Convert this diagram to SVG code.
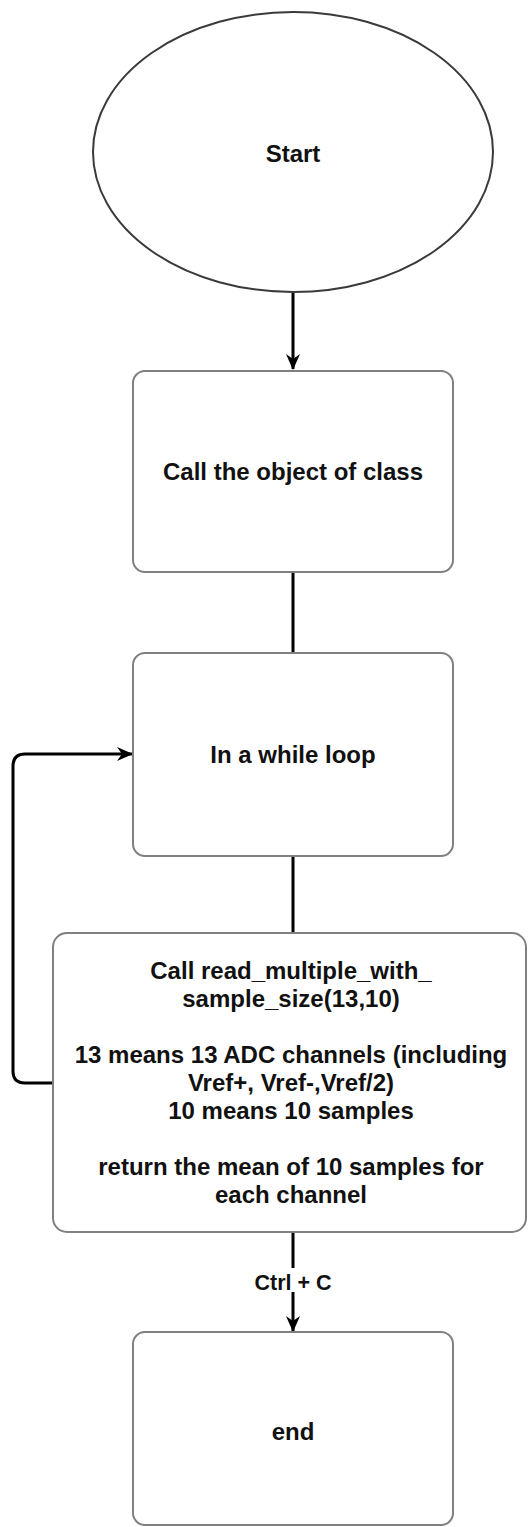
<svg xmlns="http://www.w3.org/2000/svg" width="528" height="1527" viewBox="0 0 528 1527">
  <style>
    .shape { fill: #ffffff; stroke: #808080; stroke-width: 2; }
    .oval { fill: #ffffff; stroke: #3a3a3a; stroke-width: 2; }
    .edge { fill: none; stroke: #000000; stroke-width: 3; }
    .label { font-family: "Liberation Sans", Arial, sans-serif; font-weight: bold; font-size: 24px; fill: #111111; text-anchor: middle; }
    .edge-label { font-family: "Liberation Sans", Arial, sans-serif; font-weight: bold; font-size: 21.5px; fill: #111111; text-anchor: middle; }
  </style>
  <defs>
    <marker id="arrow" viewBox="0 0 16 14" refX="15" refY="7" markerWidth="16" markerHeight="14" markerUnits="userSpaceOnUse" orient="auto">
      <path d="M0,0 L16,7 L0,14 L5,7 Z" fill="#000000"/>
    </marker>
  </defs>

  <rect width="528" height="1527" fill="#ffffff"/>

  <!-- connectors -->
  <g id="connectors">
    <path class="edge" d="M293,292 L293,369" marker-end="url(#arrow)"/>
    <path class="edge" d="M293,572 L293,653"/>
    <path class="edge" d="M293,856 L293,933"/>
    <path class="edge" d="M53,1083 L25,1083 Q13,1083 13,1071 L13,766 Q13,754 25,754 L132,754" marker-end="url(#arrow)"/>
    <path class="edge" d="M293,1232 L293,1331" marker-end="url(#arrow)"/>
    <rect x="254" y="1268" width="79" height="24" fill="#ffffff"/>
    <text class="edge-label" x="293" y="1290">Ctrl + C</text>
  </g>

  <!-- start -->
  <g id="node-start">
    <ellipse class="oval" cx="293" cy="152" rx="200" ry="140"/>
    <text class="label" x="293" y="162">Start</text>
  </g>

  <!-- create object -->
  <g id="node-call-object">
    <rect class="shape" x="133" y="371" width="320" height="201" rx="12" ry="12"/>
    <text class="label" x="293" y="480">Call the object of class</text>
  </g>

  <!-- loop -->
  <g id="node-while-loop">
    <rect class="shape" x="133" y="653" width="320" height="203" rx="12" ry="12"/>
    <text class="label" x="293" y="763">In a while loop</text>
  </g>

  <!-- read samples -->
  <g id="node-read-multiple">
    <rect class="shape" x="53" y="933" width="473" height="299" rx="14" ry="14"/>
    <text class="label" x="291" y="979">Call read_multiple_with_</text>
    <text class="label" x="291" y="1007">sample_size(13,10)</text>
    <text class="label" x="291" y="1063">13 means 13 ADC channels (including</text>
    <text class="label" x="291" y="1091">Vref+, Vref-,Vref/2)</text>
    <text class="label" x="291" y="1119">10 means 10 samples</text>
    <text class="label" x="291" y="1175">return the mean of 10 samples for</text>
    <text class="label" x="291" y="1203">each channel</text>
  </g>

  <!-- end -->
  <g id="node-end">
    <rect class="shape" x="133" y="1332" width="320" height="193" rx="12" ry="12"/>
    <text class="label" x="293" y="1440">end</text>
  </g>
</svg>
